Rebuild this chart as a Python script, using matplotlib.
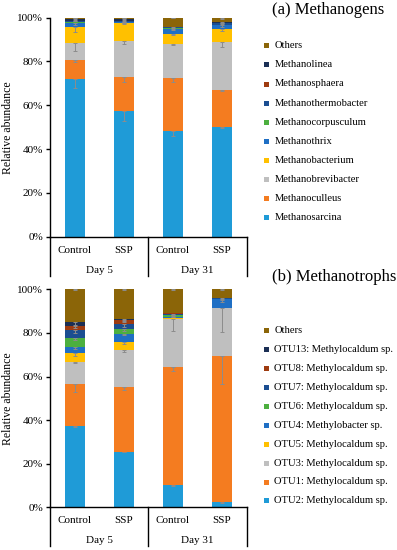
import matplotlib
matplotlib.use("Agg")
import matplotlib.pyplot as plt
import numpy as np
from matplotlib.patches import Rectangle
from matplotlib.lines import Line2D

plt.rcParams['font.family'] = ['Liberation Serif', 'DejaVu Serif']

# ---------------- data ----------------
treatments = ["Control", "SSP", "Control", "SSP"]
days = ["Day 5", "Day 31"]

meth_names = ["Methanosarcina", "Methanoculleus", "Methanobrevibacter", "Methanobacterium",
              "Methanothrix", "Methanocorpusculum", "Methanothermobacter", "Methanosphaera",
              "Methanolinea", "Others"]
methanosarcina = [71.9, 57.5, 48.1, 50.2]
methanoculleus = [8.8, 15.3, 24.4, 16.8]
methanobrevibacter = [7.9, 16.6, 15.4, 22.0]
methanobacterium = [7.0, 8.0, 4.5, 5.7]
methanothrix = [2.2, 0.5, 2.6, 2.0]
methanocorpusculum = [0.2, 0.1, 0.1, 0.1]
methanothermobacter = [0.6, 0.4, 0.5, 0.8]
methanosphaera = [0.1, 0.1, 0.1, 0.1]
methanolinea = [0.5, 0.8, 0.1, 0.3]
meth_others = [0.8, 0.7, 4.2, 2.0]

err_methanosarcina = [4.0, 4.5, 2.0, 0.5]
err_methanoculleus = [1.0, 2.0, 2.0, 0.5]
err_methanobrevibacter = [4.0, 1.5, 0.5, 2.5]
err_methanobacterium = [2.0, 0.5, 0.5, 0.8]
err_methanothrix = [1.0, 0.3, 0.8, 1.0]
err_methanocorpusculum = [0, 0, 0, 0]
err_methanothermobacter = [0.3, 0.3, 0.3, 0.5]
err_methanosphaera = [0, 0, 0, 0]
err_methanolinea = [0.3, 0.3, 0, 0.3]
err_meth_others = [0.3, 0.3, 0.3, 0.5]

otu_names = ["OTU2: Methylocaldum sp.", "OTU1: Methylocaldum sp.", "OTU3: Methylocaldum sp.",
             "OTU5: Methylocaldum sp.", "OTU4: Methylobacter sp.", "OTU6: Methylocaldum sp.",
             "OTU7: Methylocaldum sp.", "OTU8: Methylocaldum sp.", "OTU13: Methylocaldum sp.",
             "Others"]
otu2 = [37.3, 25.5, 10.1, 2.4]
otu1 = [19.3, 29.5, 54.1, 67.0]
otu3 = [10.0, 17.2, 22.3, 21.9]
otu5 = [4.0, 3.8, 0.2, 0.1]
otu4 = [3.1, 3.4, 0.8, 4.0]
otu6 = [4.0, 2.3, 0.7, 0.1]
otu7 = [3.6, 2.3, 0.5, 0.5]
otu8 = [1.9, 2.0, 0.3, 0.1]
otu13 = [1.9, 0.3, 0.1, 0.1]
otu_others = [14.9, 13.7, 10.9, 3.8]

err_otu2 = [0.5, 0.3, 0.3, 0.3]
err_otu1 = [3.5, 1.0, 1.5, 13.0]
err_otu3 = [0.5, 1.0, 5.5, 11.0]
err_otu5 = [1.0, 1.0, 0, 0]
err_otu4 = [1.0, 0.5, 0.3, 1.0]
err_otu6 = [1.0, 1.0, 0.3, 0]
err_otu7 = [1.5, 1.5, 0.3, 1.0]
err_otu8 = [1.0, 1.0, 0, 0]
err_otu13 = [1.5, 1.0, 0, 0]
err_otu_others = [0.3, 0.5, 0.3, 0.5]

colors = ['#1F9BD7', '#F47C20', '#BFBFBF', '#FFC000', '#1F6FC4',
          '#4CAF3F', '#1B4E91', '#9E3B10', '#1B2F55', '#8B6508']

meth_vals = [methanosarcina, methanoculleus, methanobrevibacter, methanobacterium, methanothrix,
             methanocorpusculum, methanothermobacter, methanosphaera, methanolinea, meth_others]
meth_errs = [err_methanosarcina, err_methanoculleus, err_methanobrevibacter, err_methanobacterium,
             err_methanothrix, err_methanocorpusculum, err_methanothermobacter, err_methanosphaera,
             err_methanolinea, err_meth_others]
otu_vals = [otu2, otu1, otu3, otu5, otu4, otu6, otu7, otu8, otu13, otu_others]
otu_errs = [err_otu2, err_otu1, err_otu3, err_otu5, err_otu4, err_otu6, err_otu7, err_otu8,
            err_otu13, err_otu_others]

# ---------------- figure ----------------
W, H = 397, 550
fig = plt.figure(figsize=(W / 100, H / 100), dpi=100)


def px_axes(left, top, right, bottom):
    return fig.add_axes([left / W, 1 - bottom / H, (right - left) / W, (bottom - top) / H])


def draw_panel(ax, vals, errs, names, title, title_y, leg_y0, leg_dy, ax_top, ax_bot):
    x = np.arange(len(treatments))
    bottom = np.zeros(len(treatments))
    for v, e, c in zip(vals, errs, colors):
        v = np.array(v, float)
        ax.bar(x, v, width=0.41, bottom=bottom, color=c, zorder=2)
        top = bottom + v
        e = np.array(e, float)
        mask = e > 0
        if mask.any():
            ax.errorbar(x[mask], top[mask], yerr=[e[mask], np.zeros(mask.sum())], fmt='none',
                        ecolor='#8C8C8C', elinewidth=0.7, capsize=1.6, capthick=0.7, zorder=3)
        bottom = top
    ax.set_xlim(-0.5, 3.5)
    ax.set_ylim(0, 100)
    ax.set_yticks([0, 20, 40, 60, 80, 100])
    ax.set_yticklabels([f"{t}%" for t in [0, 20, 40, 60, 80, 100]], fontsize=8)
    ax.set_xticks([])
    for s in ['top', 'right']:
        ax.spines[s].set_visible(False)
    ax.spines['left'].set_linewidth(1.0)
    ax.spines['bottom'].set_linewidth(1.0)
    ax.tick_params(axis='y', length=3, width=1.0, pad=2)
    ax.set_ylabel("Relative abundance", fontsize=8.5, labelpad=2)
    # category labels
    h = ax_bot - ax_top
    for i, t in enumerate(treatments):
        ax.text(i, -13.5 / h, t, transform=ax.get_xaxis_transform(), ha='center', va='center',
                fontsize=8)
    for j, d in enumerate(days):
        ax.text(2 * j + 0.5, -33.5 / h, d, transform=ax.get_xaxis_transform(), ha='center',
                va='center', fontsize=8)
    for xs in [-0.5, 1.5, 3.5]:
        ax.add_line(Line2D([xs, xs], [0, -39 / h], transform=ax.get_xaxis_transform(),
                           color='black', lw=1.0, clip_on=False))
    # title
    fig.text(272 / W, 1 - title_y / H, title, fontsize=12, ha='left', va='center')
    # legend (manual, reversed order: Others on top)
    for k, (n, c) in enumerate(zip(names[::-1], colors[::-1])):
        yc = leg_y0 + k * leg_dy
        fig.add_artist(Rectangle((263.5 / W, 1 - (yc + 2.6) / H), 5 / W, 5 / H,
                                 transform=fig.transFigure, color=c, lw=0))
        fig.text(274.5 / W, 1 - yc / H, n, fontsize=7.6, ha='left', va='center')


ax1 = px_axes(50, 17.7, 246.7, 236.7)
draw_panel(ax1, meth_vals, meth_errs, meth_names, "(a) Methanogens", 10, 45.7, 19.1, 17.7, 236.7)
ax2 = px_axes(50, 289.3, 246.7, 507.3)
draw_panel(ax2, otu_vals, otu_errs, otu_names, "(b) Methanotrophs", 277, 330.7, 18.9, 289.3, 507.3)

fig.savefig("out.png", dpi=100)
